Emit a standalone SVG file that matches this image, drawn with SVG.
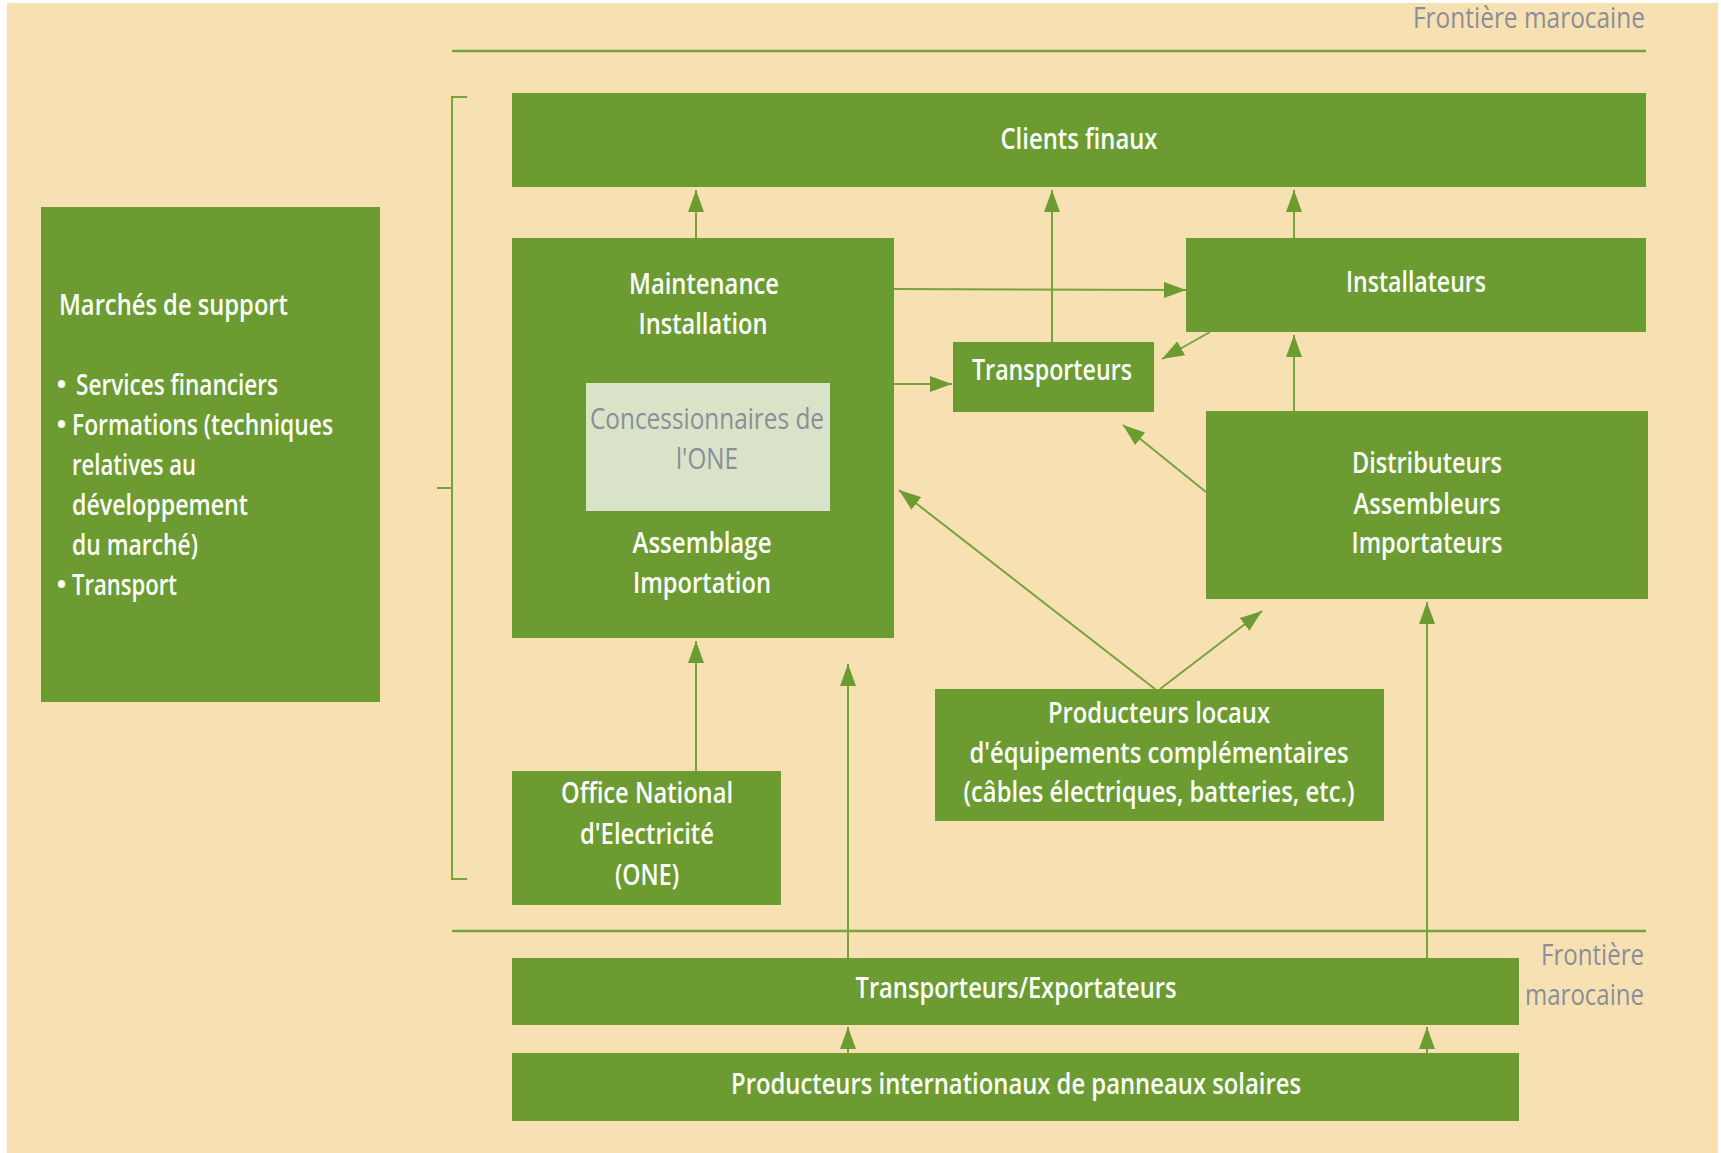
<svg xmlns="http://www.w3.org/2000/svg" width="1721" height="1153" viewBox="0 0 1721 1153">
  <style>
    .box { fill: #6c9c31; }
    .inner { fill: #d8e3c7; }
    .lbl { font-family: "Open Sans", "Noto Sans", sans-serif; font-size: 29px; font-weight: 600; fill: #ffffff; }
    .soft { fill: #8c8e98; font-weight: 400; }
    .mid { text-anchor: middle; }
    .grey { font-family: "Open Sans", "Noto Sans", sans-serif; font-size: 29px; fill: #8b8e98; }
    .end { text-anchor: end; }
    .rule { stroke: #76a33c; stroke-width: 2.5; fill: none; }
    .arrow { stroke: #76a33c; stroke-width: 2; fill: none; marker-end: url(#head); }
  </style>
  <defs>
    <marker id="head" viewBox="0 0 22 16" refX="22" refY="8" markerWidth="22" markerHeight="16" markerUnits="userSpaceOnUse" orient="auto">
      <path d="M0,0 L22,8 L0,16 Z" fill="#6c9c31"/>
    </marker>
  </defs>

  <!-- page background -->
  <rect x="0" y="0" width="1721" height="1153" fill="#ffffff"/>
  <rect x="7" y="3" width="1711" height="1150" fill="#f7e1b3"/>

  <!-- border of Morocco: top and bottom rules with captions -->
  <g id="frontiere-haut">
    <line class="rule" x1="452" y1="51" x2="1646" y2="51"/>
    <text class="grey end" x="1645" y="28" textLength="232" lengthAdjust="spacingAndGlyphs">Frontière marocaine</text>
  </g>
  <g id="frontiere-bas">
    <line class="rule" x1="452" y1="931" x2="1646" y2="931"/>
    <text class="grey end" x="1644" y="965" textLength="103" lengthAdjust="spacingAndGlyphs">Frontière</text>
    <text class="grey end" x="1644" y="1005" textLength="119" lengthAdjust="spacingAndGlyphs">marocaine</text>
  </g>

  <!-- bracket tying the support markets to the domestic chain -->
  <g id="accolade">
    <path class="rule" style="stroke-width:2" d="M467,97 H452 V879 H467 M452,488 H437"/>
  </g>

  <!-- nodes -->
  <g id="marches-support">
    <rect class="box" x="41" y="207" width="339" height="495"/>
    <text class="lbl" x="59" y="315" textLength="229" lengthAdjust="spacingAndGlyphs">Marchés de support</text>
    <text class="lbl" x="56" y="395">•</text>
    <text class="lbl" x="76" y="395" textLength="202" lengthAdjust="spacingAndGlyphs">Services financiers</text>
    <text class="lbl" x="56" y="435">•</text>
    <text class="lbl" x="72" y="435" textLength="261" lengthAdjust="spacingAndGlyphs">Formations (techniques</text>
    <text class="lbl" x="72" y="475" textLength="124" lengthAdjust="spacingAndGlyphs">relatives au</text>
    <text class="lbl" x="72" y="515" textLength="176" lengthAdjust="spacingAndGlyphs">développement</text>
    <text class="lbl" x="72" y="555" textLength="126" lengthAdjust="spacingAndGlyphs">du marché)</text>
    <text class="lbl" x="56" y="595">•</text>
    <text class="lbl" x="72" y="595" textLength="105" lengthAdjust="spacingAndGlyphs">Transport</text>
  </g>

  <g id="clients-finaux">
    <rect class="box" x="512" y="93" width="1134" height="94"/>
    <text class="lbl mid" x="1079" y="149" textLength="157" lengthAdjust="spacingAndGlyphs">Clients finaux</text>
  </g>

  <g id="maintenance-installation">
    <rect class="box" x="512" y="238" width="382" height="400"/>
    <text class="lbl mid" x="704" y="294" textLength="150" lengthAdjust="spacingAndGlyphs">Maintenance</text>
    <text class="lbl mid" x="703" y="334" textLength="129" lengthAdjust="spacingAndGlyphs">Installation</text>
    <text class="lbl mid" x="702" y="553" textLength="139" lengthAdjust="spacingAndGlyphs">Assemblage</text>
    <text class="lbl mid" x="702" y="593" textLength="138" lengthAdjust="spacingAndGlyphs">Importation</text>
  </g>

  <g id="concessionnaires">
    <rect class="inner" x="586" y="383" width="244" height="128"/>
    <text class="lbl soft mid" x="707" y="429" textLength="234" lengthAdjust="spacingAndGlyphs">Concessionnaires de</text>
    <text class="lbl soft mid" x="707" y="469" textLength="62" lengthAdjust="spacingAndGlyphs">l'ONE</text>
  </g>

  <g id="installateurs">
    <rect class="box" x="1186" y="238" width="460" height="94"/>
    <text class="lbl mid" x="1416" y="292" textLength="140" lengthAdjust="spacingAndGlyphs">Installateurs</text>
  </g>

  <g id="transporteurs">
    <rect class="box" x="953" y="342" width="201" height="70"/>
    <text class="lbl mid" x="1052" y="380" textLength="160" lengthAdjust="spacingAndGlyphs">Transporteurs</text>
  </g>

  <g id="distributeurs">
    <rect class="box" x="1206" y="411" width="442" height="188"/>
    <text class="lbl mid" x="1427" y="473" textLength="150" lengthAdjust="spacingAndGlyphs">Distributeurs</text>
    <text class="lbl mid" x="1427" y="514" textLength="147" lengthAdjust="spacingAndGlyphs">Assembleurs</text>
    <text class="lbl mid" x="1427" y="553" textLength="151" lengthAdjust="spacingAndGlyphs">Importateurs</text>
  </g>

  <g id="producteurs-locaux">
    <rect class="box" x="935" y="689" width="449" height="132"/>
    <text class="lbl mid" x="1159" y="723" textLength="222" lengthAdjust="spacingAndGlyphs">Producteurs locaux</text>
    <text class="lbl mid" x="1159" y="763" textLength="379" lengthAdjust="spacingAndGlyphs">d'équipements complémentaires</text>
    <text class="lbl mid" x="1159" y="802" textLength="391" lengthAdjust="spacingAndGlyphs">(câbles électriques, batteries, etc.)</text>
  </g>

  <g id="one">
    <rect class="box" x="512" y="771" width="269" height="134"/>
    <text class="lbl mid" x="647" y="803" textLength="172" lengthAdjust="spacingAndGlyphs">Office National</text>
    <text class="lbl mid" x="647" y="844" textLength="134" lengthAdjust="spacingAndGlyphs">d'Electricité</text>
    <text class="lbl mid" x="647" y="885" textLength="64" lengthAdjust="spacingAndGlyphs">(ONE)</text>
  </g>

  <g id="transporteurs-exportateurs">
    <rect class="box" x="512" y="958" width="1007" height="67"/>
    <text class="lbl mid" x="1016" y="998" textLength="321" lengthAdjust="spacingAndGlyphs">Transporteurs/Exportateurs</text>
  </g>

  <g id="producteurs-internationaux">
    <rect class="box" x="512" y="1053" width="1007" height="68"/>
    <text class="lbl mid" x="1016" y="1094" textLength="570" lengthAdjust="spacingAndGlyphs">Producteurs internationaux de panneaux solaires</text>
  </g>

  <!-- connectors -->
  <g id="connecteurs">
    <line class="arrow" x1="696" y1="238" x2="696" y2="190"/>
    <line class="arrow" x1="1052" y1="342" x2="1052" y2="190"/>
    <line class="arrow" x1="1294" y1="238" x2="1294" y2="190"/>
    <line class="arrow" x1="894" y1="289" x2="1186" y2="290"/>
    <line class="arrow" x1="894" y1="384" x2="952" y2="384"/>
    <line class="arrow" x1="1210" y1="332" x2="1162" y2="359"/>
    <line class="arrow" x1="1294" y1="411" x2="1294" y2="335"/>
    <line class="arrow" x1="1206" y1="492" x2="1123" y2="425"/>
    <line class="arrow" x1="1155" y1="689" x2="899" y2="490"/>
    <line class="arrow" x1="1160" y1="689" x2="1262" y2="611"/>
    <line class="arrow" x1="696" y1="771" x2="696" y2="641"/>
    <line class="arrow" x1="848" y1="958" x2="848" y2="664"/>
    <line class="arrow" x1="1427" y1="958" x2="1427" y2="602"/>
    <line class="arrow" x1="848" y1="1053" x2="848" y2="1027"/>
    <line class="arrow" x1="1427" y1="1053" x2="1427" y2="1027"/>
  </g>
</svg>
